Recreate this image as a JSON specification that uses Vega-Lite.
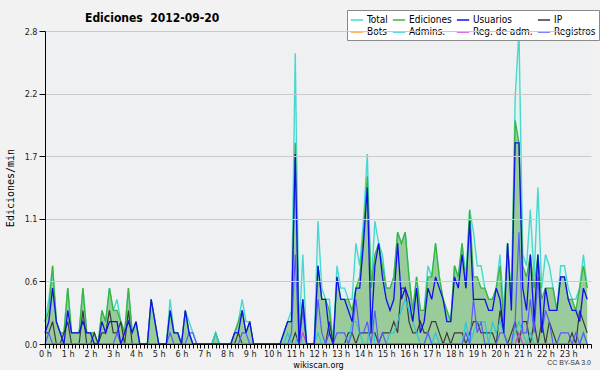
{
"$schema": "https://vega.github.io/schema/vega-lite/v6.json",
"width": 546, "height": 313,
"autosize": {"type": "none"},
"padding": {"left": 45, "top": 31, "right": 9, "bottom": 26},
"background": "#f2f2f2",
"title": {"text": "Ediciones\u00a0 2012-09-20", "anchor": "start", "frame": "group", "dx": 40, "offset": -15, "fontSize": 12, "fontWeight": "bold", "font": "DejaVu Sans Condensed", "color": "#000"},
"config": {
 "view": {"fill": "#eef0f2", "stroke": null},
 "axis": {"domainColor": "#000", "tickColor": "#000", "labelColor": "#222", "labelFontSize": 9, "labelFont": "DejaVu Sans Condensed", "gridColor": "#cacaca", "titleFontWeight": "normal", "titleColor": "#000"},
 "legend": {"orient": "none", "legendX": 302, "legendY": -21, "columns": 4, "direction": "horizontal", "symbolType": "stroke", "symbolSize": 150, "symbolStrokeWidth": 1.5, "labelFontSize": 10, "labelFont": "DejaVu Sans Condensed", "labelColor": "#000", "fillColor": "#ffffff", "strokeColor": "#8a8a8a", "padding": 3, "rowPadding": -3, "columnPadding": 1, "labelOffset": 3}
},
"data": {"values": [
{"m":0,"tot":0.2,"ed":0.2,"us":0.1,"ip":0.1,"bot":0,"adm":0,"rad":0,"reg":0},
{"m":10,"tot":0.4,"ed":0.3,"us":0.2,"ip":0.1,"bot":0,"adm":0,"rad":0,"reg":0.1},
{"m":20,"tot":0.7,"ed":0.7,"us":0.5,"ip":0.2,"bot":0,"adm":0,"rad":0,"reg":0},
{"m":30,"tot":0.2,"ed":0.2,"us":0.2,"ip":0,"bot":0,"adm":0,"rad":0,"reg":0},
{"m":40,"tot":0.1,"ed":0.1,"us":0.1,"ip":0,"bot":0,"adm":0,"rad":0,"reg":0},
{"m":50,"tot":0.1,"ed":0.1,"us":0,"ip":0.1,"bot":0,"adm":0,"rad":0,"reg":0},
{"m":60,"tot":0.5,"ed":0.5,"us":0.3,"ip":0.2,"bot":0,"adm":0,"rad":0,"reg":0},
{"m":70,"tot":0.1,"ed":0.1,"us":0.1,"ip":0,"bot":0,"adm":0,"rad":0,"reg":0},
{"m":80,"tot":0.1,"ed":0.1,"us":0.1,"ip":0,"bot":0,"adm":0,"rad":0,"reg":0},
{"m":90,"tot":0.1,"ed":0.1,"us":0.1,"ip":0,"bot":0,"adm":0,"rad":0,"reg":0},
{"m":100,"tot":0.5,"ed":0.5,"us":0.2,"ip":0.3,"bot":0,"adm":0,"rad":0,"reg":0},
{"m":110,"tot":0.1,"ed":0.1,"us":0.1,"ip":0,"bot":0,"adm":0,"rad":0,"reg":0},
{"m":120,"tot":0.1,"ed":0.1,"us":0.1,"ip":0,"bot":0,"adm":0,"rad":0,"reg":0},
{"m":130,"tot":0.1,"ed":0.1,"us":0,"ip":0.1,"bot":0,"adm":0,"rad":0,"reg":0},
{"m":140,"tot":0,"ed":0,"us":0,"ip":0,"bot":0,"adm":0,"rad":0,"reg":0},
{"m":150,"tot":0.3,"ed":0.3,"us":0.2,"ip":0.1,"bot":0,"adm":0,"rad":0,"reg":0},
{"m":160,"tot":0.2,"ed":0.2,"us":0.1,"ip":0.1,"bot":0,"adm":0,"rad":0,"reg":0},
{"m":170,"tot":0.5,"ed":0.5,"us":0.2,"ip":0.3,"bot":0,"adm":0,"rad":0,"reg":0},
{"m":180,"tot":0.3,"ed":0.3,"us":0.2,"ip":0.1,"bot":0,"adm":0,"rad":0,"reg":0},
{"m":190,"tot":0.4,"ed":0.3,"us":0.2,"ip":0.1,"bot":0,"adm":0,"rad":0,"reg":0.1},
{"m":200,"tot":0.2,"ed":0.2,"us":0,"ip":0.2,"bot":0,"adm":0,"rad":0,"reg":0},
{"m":210,"tot":0.1,"ed":0.1,"us":0.1,"ip":0,"bot":0,"adm":0,"rad":0,"reg":0},
{"m":220,"tot":0.5,"ed":0.5,"us":0.2,"ip":0.3,"bot":0,"adm":0,"rad":0,"reg":0},
{"m":230,"tot":0.1,"ed":0.1,"us":0.1,"ip":0,"bot":0,"adm":0,"rad":0,"reg":0},
{"m":240,"tot":0.2,"ed":0.2,"us":0.2,"ip":0,"bot":0,"adm":0,"rad":0,"reg":0},
{"m":250,"tot":0,"ed":0,"us":0,"ip":0,"bot":0,"adm":0,"rad":0,"reg":0},
{"m":260,"tot":0,"ed":0,"us":0,"ip":0,"bot":0,"adm":0,"rad":0,"reg":0},
{"m":270,"tot":0,"ed":0,"us":0,"ip":0,"bot":0,"adm":0,"rad":0,"reg":0},
{"m":280,"tot":0.4,"ed":0.4,"us":0.4,"ip":0,"bot":0,"adm":0,"rad":0,"reg":0},
{"m":290,"tot":0.2,"ed":0.2,"us":0.2,"ip":0,"bot":0,"adm":0,"rad":0,"reg":0},
{"m":300,"tot":0,"ed":0,"us":0,"ip":0,"bot":0,"adm":0,"rad":0,"reg":0},
{"m":310,"tot":0,"ed":0,"us":0,"ip":0,"bot":0,"adm":0,"rad":0,"reg":0},
{"m":320,"tot":0,"ed":0,"us":0,"ip":0,"bot":0,"adm":0,"rad":0,"reg":0},
{"m":330,"tot":0.4,"ed":0.3,"us":0.3,"ip":0,"bot":0,"adm":0,"rad":0,"reg":0.1},
{"m":340,"tot":0.1,"ed":0.1,"us":0.1,"ip":0,"bot":0,"adm":0,"rad":0,"reg":0},
{"m":350,"tot":0.1,"ed":0.1,"us":0.1,"ip":0,"bot":0,"adm":0,"rad":0,"reg":0},
{"m":360,"tot":0,"ed":0,"us":0,"ip":0,"bot":0,"adm":0,"rad":0,"reg":0},
{"m":370,"tot":0.3,"ed":0.3,"us":0.3,"ip":0,"bot":0,"adm":0,"rad":0,"reg":0},
{"m":380,"tot":0.2,"ed":0.1,"us":0.1,"ip":0,"bot":0,"adm":0,"rad":0,"reg":0.1},
{"m":390,"tot":0.1,"ed":0,"us":0,"ip":0,"bot":0,"adm":0,"rad":0,"reg":0.1},
{"m":400,"tot":0,"ed":0,"us":0,"ip":0,"bot":0,"adm":0,"rad":0,"reg":0},
{"m":410,"tot":0,"ed":0,"us":0,"ip":0,"bot":0,"adm":0,"rad":0,"reg":0},
{"m":420,"tot":0,"ed":0,"us":0,"ip":0,"bot":0,"adm":0,"rad":0,"reg":0},
{"m":430,"tot":0,"ed":0,"us":0,"ip":0,"bot":0,"adm":0,"rad":0,"reg":0},
{"m":440,"tot":0,"ed":0,"us":0,"ip":0,"bot":0,"adm":0,"rad":0,"reg":0},
{"m":450,"tot":0.1,"ed":0.1,"us":0,"ip":0,"bot":0,"adm":0.1,"rad":0,"reg":0},
{"m":460,"tot":0,"ed":0,"us":0,"ip":0,"bot":0,"adm":0,"rad":0,"reg":0},
{"m":470,"tot":0,"ed":0,"us":0,"ip":0,"bot":0,"adm":0,"rad":0,"reg":0},
{"m":480,"tot":0,"ed":0,"us":0,"ip":0,"bot":0,"adm":0,"rad":0,"reg":0},
{"m":490,"tot":0,"ed":0,"us":0,"ip":0,"bot":0,"adm":0,"rad":0,"reg":0},
{"m":500,"tot":0.1,"ed":0.1,"us":0.1,"ip":0,"bot":0,"adm":0,"rad":0,"reg":0},
{"m":510,"tot":0.2,"ed":0.2,"us":0.1,"ip":0.1,"bot":0,"adm":0,"rad":0,"reg":0},
{"m":520,"tot":0.4,"ed":0.3,"us":0.3,"ip":0,"bot":0,"adm":0,"rad":0,"reg":0.1},
{"m":530,"tot":0.2,"ed":0.1,"us":0.1,"ip":0,"bot":0,"adm":0,"rad":0,"reg":0.1},
{"m":540,"tot":0.2,"ed":0.2,"us":0.2,"ip":0,"bot":0,"adm":0,"rad":0,"reg":0},
{"m":550,"tot":0,"ed":0,"us":0,"ip":0,"bot":0,"adm":0,"rad":0,"reg":0},
{"m":560,"tot":0,"ed":0,"us":0,"ip":0,"bot":0,"adm":0,"rad":0,"reg":0},
{"m":570,"tot":0,"ed":0,"us":0,"ip":0,"bot":0,"adm":0,"rad":0,"reg":0},
{"m":580,"tot":0,"ed":0,"us":0,"ip":0,"bot":0,"adm":0,"rad":0,"reg":0},
{"m":590,"tot":0,"ed":0,"us":0,"ip":0,"bot":0,"adm":0,"rad":0,"reg":0},
{"m":600,"tot":0,"ed":0,"us":0,"ip":0,"bot":0,"adm":0,"rad":0,"reg":0},
{"m":610,"tot":0,"ed":0,"us":0,"ip":0,"bot":0,"adm":0,"rad":0,"reg":0},
{"m":620,"tot":0,"ed":0,"us":0,"ip":0,"bot":0,"adm":0,"rad":0,"reg":0},
{"m":630,"tot":0.1,"ed":0.1,"us":0.1,"ip":0,"bot":0,"adm":0,"rad":0,"reg":0},
{"m":640,"tot":0.2,"ed":0.2,"us":0.2,"ip":0,"bot":0,"adm":0.1,"rad":0,"reg":0},
{"m":650,"tot":0.3,"ed":0.2,"us":0.2,"ip":0,"bot":0,"adm":0,"rad":0,"reg":0.1},
{"m":660,"tot":2.6,"ed":1.8,"us":1.7,"ip":0.1,"bot":0,"adm":0,"rad":0,"reg":0.8},
{"m":670,"tot":0.1,"ed":0.1,"us":0,"ip":0,"bot":0,"adm":0.1,"rad":0,"reg":0},
{"m":680,"tot":0.8,"ed":0.4,"us":0.4,"ip":0,"bot":0,"adm":0,"rad":0.1,"reg":0.3},
{"m":690,"tot":0,"ed":0,"us":0,"ip":0,"bot":0,"adm":0,"rad":0,"reg":0},
{"m":700,"tot":0,"ed":0,"us":0,"ip":0,"bot":0,"adm":0,"rad":0,"reg":0},
{"m":710,"tot":0,"ed":0,"us":0,"ip":0,"bot":0,"adm":0,"rad":0,"reg":0},
{"m":720,"tot":1.1,"ed":0.7,"us":0.7,"ip":0,"bot":0,"adm":0.1,"rad":0,"reg":0.4},
{"m":730,"tot":0.5,"ed":0.4,"us":0.4,"ip":0,"bot":0,"adm":0,"rad":0,"reg":0.1},
{"m":740,"tot":0.4,"ed":0.4,"us":0.4,"ip":0,"bot":0,"adm":0,"rad":0,"reg":0},
{"m":750,"tot":0.4,"ed":0.3,"us":0.1,"ip":0.2,"bot":0,"adm":0,"rad":0,"reg":0.1},
{"m":760,"tot":0,"ed":0,"us":0,"ip":0,"bot":0,"adm":0,"rad":0,"reg":0},
{"m":770,"tot":0.7,"ed":0.6,"us":0.6,"ip":0,"bot":0,"adm":0,"rad":0,"reg":0.1},
{"m":780,"tot":0.5,"ed":0.4,"us":0.4,"ip":0,"bot":0,"adm":0,"rad":0,"reg":0.1},
{"m":790,"tot":0.5,"ed":0.4,"us":0.4,"ip":0,"bot":0,"adm":0,"rad":0,"reg":0.1},
{"m":800,"tot":0.4,"ed":0.4,"us":0.3,"ip":0.1,"bot":0,"adm":0,"rad":0,"reg":0},
{"m":810,"tot":0.4,"ed":0.3,"us":0.2,"ip":0.1,"bot":0,"adm":0.2,"rad":0,"reg":0.1},
{"m":820,"tot":0.9,"ed":0.5,"us":0.5,"ip":0,"bot":0,"adm":0.2,"rad":0,"reg":0.4},
{"m":830,"tot":0.7,"ed":0.6,"us":0.5,"ip":0.1,"bot":0,"adm":0.1,"rad":0,"reg":0.1},
{"m":840,"tot":1.1,"ed":1.0,"us":0.9,"ip":0.1,"bot":0,"adm":0,"rad":0,"reg":0.1},
{"m":850,"tot":1.7,"ed":1.5,"us":1.4,"ip":0.1,"bot":0,"adm":0,"rad":0,"reg":0.2},
{"m":860,"tot":0.5,"ed":0.5,"us":0.1,"ip":0.1,"bot":0,"adm":0.3,"rad":0,"reg":0},
{"m":870,"tot":1.1,"ed":0.8,"us":0.7,"ip":0.1,"bot":0,"adm":0,"rad":0,"reg":0.3},
{"m":880,"tot":0.9,"ed":0.9,"us":0.9,"ip":0,"bot":0,"adm":0,"rad":0,"reg":0},
{"m":890,"tot":0.8,"ed":0.7,"us":0.6,"ip":0.1,"bot":0,"adm":0,"rad":0,"reg":0.1},
{"m":900,"tot":0.5,"ed":0.5,"us":0.4,"ip":0.1,"bot":0,"adm":0,"rad":0,"reg":0},
{"m":910,"tot":0.5,"ed":0.5,"us":0.3,"ip":0.1,"bot":0,"adm":0.1,"rad":0,"reg":0},
{"m":920,"tot":0.6,"ed":0.6,"us":0.4,"ip":0.2,"bot":0,"adm":0.1,"rad":0,"reg":0},
{"m":930,"tot":1.0,"ed":1.0,"us":0.9,"ip":0.1,"bot":0,"adm":0.2,"rad":0,"reg":0},
{"m":940,"tot":0.9,"ed":0.9,"us":0.4,"ip":0.5,"bot":0,"adm":0.3,"rad":0,"reg":0},
{"m":950,"tot":1.0,"ed":1.0,"us":0.5,"ip":0.5,"bot":0,"adm":0.4,"rad":0,"reg":0},
{"m":960,"tot":0.6,"ed":0.6,"us":0.4,"ip":0.2,"bot":0,"adm":0.3,"rad":0,"reg":0},
{"m":970,"tot":0.3,"ed":0.3,"us":0.2,"ip":0.1,"bot":0,"adm":0.2,"rad":0,"reg":0},
{"m":980,"tot":0.6,"ed":0.6,"us":0.5,"ip":0.1,"bot":0,"adm":0.1,"rad":0,"reg":0},
{"m":990,"tot":0.3,"ed":0.3,"us":0.1,"ip":0.2,"bot":0,"adm":0,"rad":0,"reg":0},
{"m":1000,"tot":0.3,"ed":0.3,"us":0.2,"ip":0.1,"bot":0,"adm":0,"rad":0,"reg":0},
{"m":1010,"tot":0.7,"ed":0.6,"us":0.5,"ip":0.1,"bot":0,"adm":0.1,"rad":0,"reg":0.1},
{"m":1020,"tot":0.6,"ed":0.6,"us":0.4,"ip":0.2,"bot":0,"adm":0,"rad":0,"reg":0},
{"m":1030,"tot":0.9,"ed":0.9,"us":0.6,"ip":0.2,"bot":0,"adm":0.1,"rad":0,"reg":0},
{"m":1040,"tot":0.6,"ed":0.6,"us":0.5,"ip":0.1,"bot":0,"adm":0,"rad":0,"reg":0},
{"m":1050,"tot":0.4,"ed":0.4,"us":0.4,"ip":0,"bot":0,"adm":0,"rad":0,"reg":0},
{"m":1060,"tot":0.3,"ed":0.3,"us":0.2,"ip":0.1,"bot":0,"adm":0,"rad":0,"reg":0},
{"m":1070,"tot":0.2,"ed":0.2,"us":0.2,"ip":0,"bot":0,"adm":0,"rad":0,"reg":0},
{"m":1080,"tot":0.7,"ed":0.7,"us":0.6,"ip":0.1,"bot":0,"adm":0,"rad":0,"reg":0},
{"m":1090,"tot":0.6,"ed":0.6,"us":0.5,"ip":0.1,"bot":0,"adm":0,"rad":0,"reg":0},
{"m":1100,"tot":0.9,"ed":0.9,"us":0.8,"ip":0.1,"bot":0,"adm":0,"rad":0,"reg":0},
{"m":1110,"tot":0.6,"ed":0.5,"us":0.5,"ip":0,"bot":0,"adm":0.2,"rad":0,"reg":0.1},
{"m":1120,"tot":1.2,"ed":1.2,"us":1.1,"ip":0.1,"bot":0,"adm":0,"rad":0,"reg":0},
{"m":1130,"tot":1.0,"ed":0.6,"us":0.4,"ip":0.2,"bot":0,"adm":0.1,"rad":0,"reg":0.4},
{"m":1140,"tot":0.7,"ed":0.6,"us":0.4,"ip":0.2,"bot":0,"adm":0.2,"rad":0,"reg":0.1},
{"m":1150,"tot":0.7,"ed":0.5,"us":0.4,"ip":0.1,"bot":0,"adm":0.2,"rad":0,"reg":0.2},
{"m":1160,"tot":0.5,"ed":0.5,"us":0.4,"ip":0.1,"bot":0,"adm":0.2,"rad":0,"reg":0},
{"m":1170,"tot":0.4,"ed":0.4,"us":0.3,"ip":0.1,"bot":0,"adm":0,"rad":0,"reg":0},
{"m":1180,"tot":0.4,"ed":0.4,"us":0.3,"ip":0.1,"bot":0,"adm":0.2,"rad":0,"reg":0},
{"m":1190,"tot":0.5,"ed":0.5,"us":0.5,"ip":0,"bot":0,"adm":0.1,"rad":0,"reg":0},
{"m":1200,"tot":0.8,"ed":0.7,"us":0.4,"ip":0.3,"bot":0,"adm":0.2,"rad":0,"reg":0.1},
{"m":1210,"tot":0.3,"ed":0.2,"us":0.1,"ip":0.1,"bot":0,"adm":0.1,"rad":0,"reg":0.1},
{"m":1220,"tot":0.9,"ed":0.9,"us":0.9,"ip":0,"bot":0,"adm":0,"rad":0,"reg":0},
{"m":1230,"tot":0.4,"ed":0.4,"us":0.3,"ip":0.1,"bot":0,"adm":0,"rad":0,"reg":0},
{"m":1240,"tot":2.2,"ed":2.0,"us":1.8,"ip":0.2,"bot":0,"adm":0.1,"rad":0,"reg":0.2},
{"m":1250,"tot":2.8,"ed":1.8,"us":1.8,"ip":0,"bot":0,"adm":0.2,"rad":0.1,"reg":1.0},
{"m":1260,"tot":0.8,"ed":0.7,"us":0.5,"ip":0.2,"bot":0,"adm":0.1,"rad":0,"reg":0.1},
{"m":1270,"tot":0.7,"ed":0.6,"us":0.3,"ip":0.2,"bot":0,"adm":0,"rad":0,"reg":0.1},
{"m":1280,"tot":1.2,"ed":0.8,"us":0.8,"ip":0,"bot":0,"adm":0.1,"rad":0,"reg":0.4},
{"m":1290,"tot":0.6,"ed":0.5,"us":0.2,"ip":0.2,"bot":0,"adm":0,"rad":0,"reg":0.1},
{"m":1300,"tot":1.4,"ed":0.8,"us":0.8,"ip":0,"bot":0,"adm":0,"rad":0,"reg":0.6},
{"m":1310,"tot":0.5,"ed":0.4,"us":0.1,"ip":0.2,"bot":0,"adm":0,"rad":0,"reg":0.1},
{"m":1320,"tot":0.8,"ed":0.5,"us":0.5,"ip":0,"bot":0,"adm":0,"rad":0,"reg":0.3},
{"m":1330,"tot":0.7,"ed":0.5,"us":0.3,"ip":0.2,"bot":0,"adm":0,"rad":0,"reg":0.2},
{"m":1340,"tot":0.5,"ed":0.5,"us":0.3,"ip":0.1,"bot":0,"adm":0,"rad":0,"reg":0},
{"m":1350,"tot":0.3,"ed":0.3,"us":0.3,"ip":0,"bot":0,"adm":0,"rad":0,"reg":0},
{"m":1360,"tot":0.7,"ed":0.6,"us":0.6,"ip":0,"bot":0,"adm":0,"rad":0,"reg":0.1},
{"m":1370,"tot":0.7,"ed":0.6,"us":0.6,"ip":0,"bot":0,"adm":0,"rad":0,"reg":0.1},
{"m":1380,"tot":0.5,"ed":0.4,"us":0.4,"ip":0,"bot":0,"adm":0,"rad":0,"reg":0.1},
{"m":1390,"tot":0.4,"ed":0.4,"us":0.3,"ip":0.1,"bot":0,"adm":0,"rad":0,"reg":0},
{"m":1400,"tot":0.4,"ed":0.3,"us":0.3,"ip":0,"bot":0,"adm":0,"rad":0,"reg":0.1},
{"m":1410,"tot":0.5,"ed":0.5,"us":0.2,"ip":0.3,"bot":0,"adm":0,"rad":0,"reg":0},
{"m":1420,"tot":0.8,"ed":0.7,"us":0.5,"ip":0.2,"bot":0,"adm":0.1,"rad":0,"reg":0.1},
{"m":1430,"tot":0.5,"ed":0.5,"us":0.4,"ip":0.1,"bot":0,"adm":0,"rad":0,"reg":0}
]},
"encoding": {
 "x": {"field": "m", "type": "quantitative", "scale": {"domain": [0, 1440], "nice": false, "zero": false},
  "axis": {"tickCount": 144, "labelExpr": "datum.value % 60 == 0 && datum.value < 1440 ? (datum.value / 60) + ' h' : ''", "labelOverlap": false, "labelFlush": false, "tickSize": 4, "labelPadding": 1, "grid": false, "title": "wikiscan.org", "titleFontSize": 9, "titleFont": "DejaVu Sans Condensed", "titlePadding": 2, "zindex": 1}}
},
"layer": [
 {"mark": {"type": "area", "color": "#dff4ef"},
  "encoding": {"y": {"field": "tot", "type": "quantitative", "scale": {"domain": [0, 2.8], "nice": false},
   "axis": {"values": [0,0.14,0.28,0.42,0.56,0.7,0.84,0.98,1.12,1.26,1.4,1.54,1.68,1.82,1.96,2.1,2.24,2.38,2.52,2.66,2.8],
    "labelExpr": "indexof([0,0.56,1.12,1.68,2.24,2.8], datum.value) >= 0 ? format(datum.value, '.1f') : ''",
    "grid": true,
    "gridOpacity": {"condition": {"test": "indexof([0.56,1.12,1.68,2.24,2.8], datum.value) >= 0", "value": 1}, "value": 0},
    "tickSize": {"condition": {"test": "indexof([0,0.56,1.12,1.68,2.24,2.8], datum.value) >= 0", "value": 6}, "value": 3},
    "labelPadding": 2, "labelOverlap": false, "title": "Ediciones/min", "titleFont": "DejaVu Sans Mono", "titleFontSize": 10, "titlePadding": 9, "zindex": 1}}}},
 {"mark": {"type": "area", "color": "#9acb9a"},
  "encoding": {"y": {"field": "ed", "type": "quantitative", "title": "Ediciones/min", "scale": {"domain": [0, 2.8], "nice": false}}}},
 {"mark": {"type": "line", "strokeWidth": 1.4},
  "encoding": {"y": {"field": "tot", "type": "quantitative", "title": "Ediciones/min", "scale": {"domain": [0, 2.8], "nice": false}},
   "color": {"datum": "Total", "title": null, "scale": {"domain": ["Total", "Ediciones", "Usuarios", "IP", "Bots", "Admins.", "Reg. de adm.", "Registros"], "range": ["#48d8d0", "#3cb43c", "#1010ee", "#3a3a3a", "#ffa030", "#28c8dc", "#d040e0", "#5a5aff"]}}}},
 {"mark": {"type": "line", "strokeWidth": 1.3},
  "encoding": {"y": {"field": "ed", "type": "quantitative", "title": "Ediciones/min", "scale": {"domain": [0, 2.8], "nice": false}}, "color": {"datum": "Ediciones", "title": null}}},
 {"mark": {"type": "line", "strokeWidth": 1.2},
  "encoding": {"y": {"field": "ip", "type": "quantitative", "title": "Ediciones/min", "scale": {"domain": [0, 2.8], "nice": false}}, "color": {"datum": "IP", "title": null}}},
 {"mark": {"type": "line", "strokeWidth": 1.2},
  "encoding": {"y": {"field": "bot", "type": "quantitative", "title": "Ediciones/min", "scale": {"domain": [0, 2.8], "nice": false}}, "color": {"datum": "Bots", "title": null}}},
 {"mark": {"type": "line", "strokeWidth": 1.2},
  "encoding": {"y": {"field": "adm", "type": "quantitative", "title": "Ediciones/min", "scale": {"domain": [0, 2.8], "nice": false}}, "color": {"datum": "Admins.", "title": null}}},
 {"mark": {"type": "line", "strokeWidth": 1.2},
  "encoding": {"y": {"field": "rad", "type": "quantitative", "title": "Ediciones/min", "scale": {"domain": [0, 2.8], "nice": false}}, "color": {"datum": "Reg. de adm.", "title": null}}},
 {"mark": {"type": "line", "strokeWidth": 1.2},
  "encoding": {"y": {"field": "reg", "type": "quantitative", "title": "Ediciones/min", "scale": {"domain": [0, 2.8], "nice": false}}, "color": {"datum": "Registros", "title": null}}},
 {"mark": {"type": "line", "strokeWidth": 1.3},
  "encoding": {"y": {"field": "us", "type": "quantitative", "title": "Ediciones/min", "scale": {"domain": [0, 2.8], "nice": false}}, "color": {"datum": "Usuarios", "title": null}}},
 {"data": {"values": [{"txt": "CC BY-SA 3.0", "m": 1440, "v": 0}]},
  "mark": {"type": "text", "align": "right", "baseline": "middle", "fontSize": 7, "dy": 19, "color": "#333", "clip": false},
  "encoding": {"x": {"field": "m", "type": "quantitative"}, "y": {"field": "v", "type": "quantitative", "title": "Ediciones/min"}, "text": {"field": "txt", "type": "nominal"}}}
]
}
